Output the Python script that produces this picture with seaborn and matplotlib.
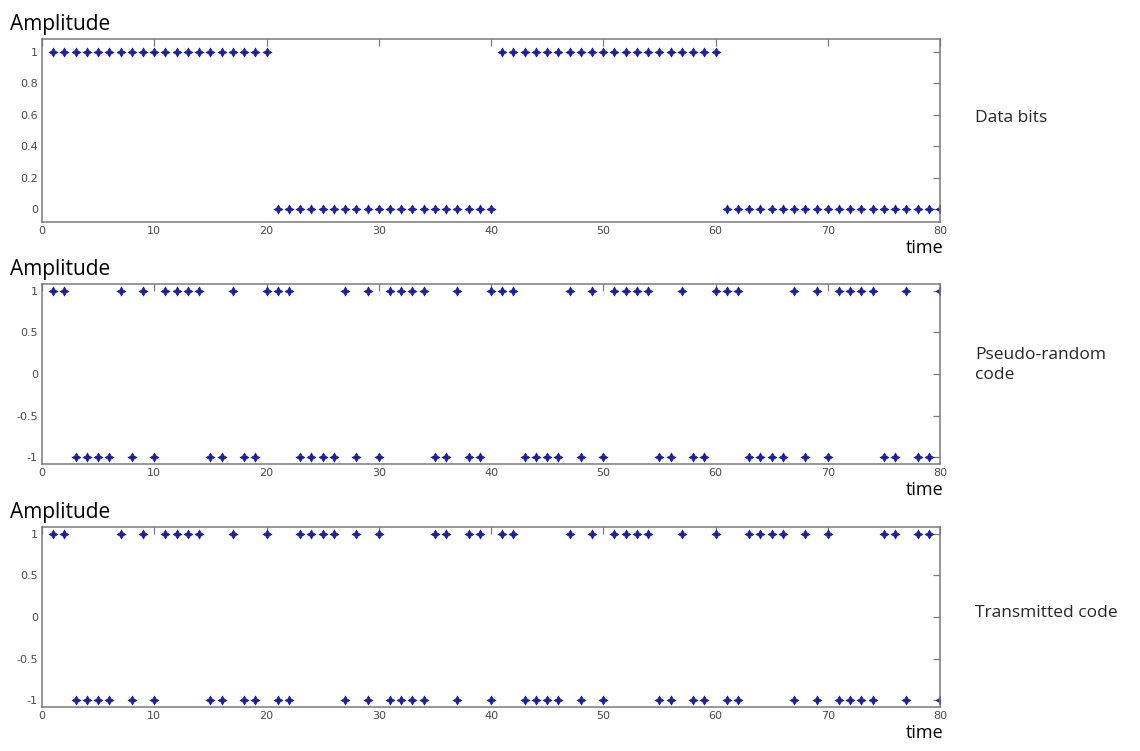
import numpy as np
import matplotlib
matplotlib.use("Agg")
import matplotlib.pyplot as plt
import seaborn as sns

# ---------------- data ----------------
time = np.arange(1, 81)

data_bits = [
    1, 1, 1, 1, 1, 1, 1, 1, 1, 1, 1, 1, 1, 1, 1, 1, 1, 1, 1, 1,
    0, 0, 0, 0, 0, 0, 0, 0, 0, 0, 0, 0, 0, 0, 0, 0, 0, 0, 0, 0,
    1, 1, 1, 1, 1, 1, 1, 1, 1, 1, 1, 1, 1, 1, 1, 1, 1, 1, 1, 1,
    0, 0, 0, 0, 0, 0, 0, 0, 0, 0, 0, 0, 0, 0, 0, 0, 0, 0, 0, 0,
]

pn_code = [
    1, 1, -1, -1, -1, -1, 1, -1, 1, -1, 1, 1, 1, 1, -1, -1, 1, -1, -1, 1,
    1, 1, -1, -1, -1, -1, 1, -1, 1, -1, 1, 1, 1, 1, -1, -1, 1, -1, -1, 1,
    1, 1, -1, -1, -1, -1, 1, -1, 1, -1, 1, 1, 1, 1, -1, -1, 1, -1, -1, 1,
    1, 1, -1, -1, -1, -1, 1, -1, 1, -1, 1, 1, 1, 1, -1, -1, 1, -1, -1, 1,
]

transmitted = [
    1, 1, -1, -1, -1, -1, 1, -1, 1, -1, 1, 1, 1, 1, -1, -1, 1, -1, -1, 1,
    -1, -1, 1, 1, 1, 1, -1, 1, -1, 1, -1, -1, -1, -1, 1, 1, -1, 1, 1, -1,
    1, 1, -1, -1, -1, -1, 1, -1, 1, -1, 1, 1, 1, 1, -1, -1, 1, -1, -1, 1,
    -1, -1, 1, 1, 1, 1, -1, 1, -1, 1, -1, -1, -1, -1, 1, 1, -1, 1, 1, -1,
]

x_ticks = [0, 10, 20, 30, 40, 50, 60, 70, 80]
bits_yticks = [0, 0.2, 0.4, 0.6, 0.8, 1]
bits_ylabels = ["0", "0.2", "0.4", "0.6", "0.8", "1"]
code_yticks = [-1, -0.5, 0, 0.5, 1]
code_ylabels = ["-1", "-0.5", "0", "0.5", "1"]
side_labels = ["Data bits", "Pseudo-random\ncode", "Transmitted code"]

# ---------------- style ----------------
sns.set_style("white")
plt.rcParams["font.family"] = ["Open Sans", "DejaVu Sans"]

W, H = 1140, 751
fig = plt.figure(figsize=(W / 100, H / 100), dpi=100)

def px_rect(l, t, r, b):
    return [l / W, 1 - b / H, (r - l) / W, (b - t) / H]

# panel boxes in pixels (left, top, right, bottom)
boxes = [(42, 39, 940, 222), (42, 284, 940, 464), (42, 527, 940, 707)]
series = [data_bits, pn_code, transmitted]
ylims = [(-0.08, 1.08), (-1.08, 1.08), (-1.08, 1.08)]
yticks = [bits_yticks, code_yticks, code_yticks]
ylabels = [bits_ylabels, code_ylabels, code_ylabels]
side_y = [0.57, 0.55, 0.52]

frame = "#7a7a7a"
blue = "#1a1f9c"

for i in range(3):
    ax = fig.add_axes(px_rect(*boxes[i]))
    sns.scatterplot(x=time, y=series[i], ax=ax, marker=(4, 1, 0), s=42,
                    color=blue, edgecolor=blue, linewidth=0.5, legend=False)
    ax.set_xlim(0, 80)
    ax.set_ylim(*ylims[i])
    ax.set_xticks(x_ticks)
    ax.set_xticklabels([str(v) for v in x_ticks])
    ax.set_yticks(yticks[i])
    ax.set_yticklabels(ylabels[i])
    ax.set_xlabel("")
    ax.set_ylabel("")
    ax.tick_params(direction="in", top=True, right=True, length=5, width=0.9,
                   color=frame, labelsize=8, labelcolor="#4a4a4a", pad=3)
    for lab in ax.get_xticklabels() + ax.get_yticklabels():
        lab.set_family("DejaVu Sans")
    for sp in ax.spines.values():
        sp.set_color(frame)
        sp.set_linewidth(1.1)

    l, t, r, b = boxes[i]
    # "Amplitude" above each panel
    fig.text(10 / W, 1 - (t - 4) / H, "Amplitude", ha="left", va="bottom",
             fontsize=15, color="black")
    # "time" below right corner
    fig.text(944 / W, 1 - (b + 17) / H, "time", ha="right", va="top",
             fontsize=13, color="black")
    # description on the right
    ax.text(1.039, side_y[i], side_labels[i], transform=ax.transAxes,
            ha="left", va="center", fontsize=12.5, linespacing=1.3)

fig.savefig("out.png", dpi=100, facecolor="white")
